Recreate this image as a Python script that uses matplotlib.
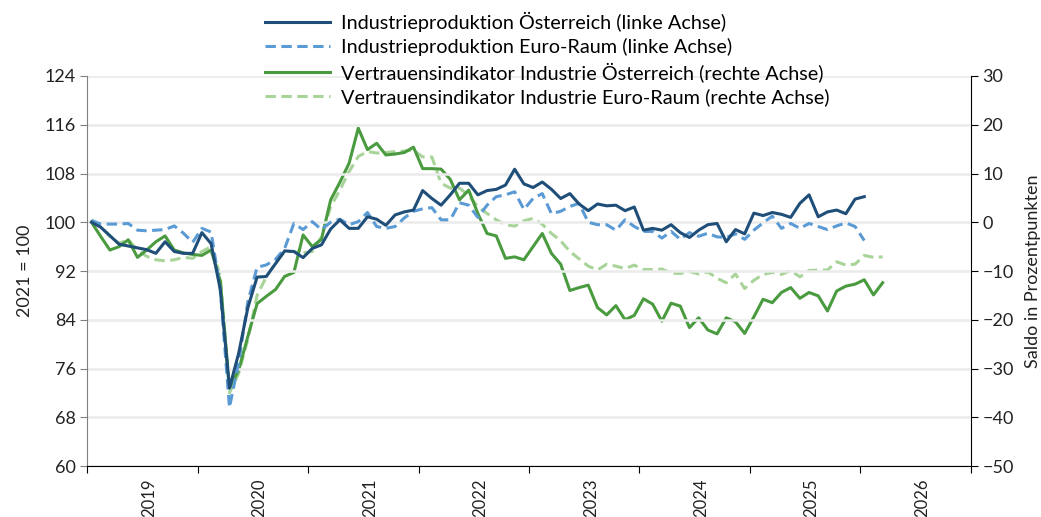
import numpy as np
import matplotlib
matplotlib.use("Agg")
import matplotlib.pyplot as plt
from matplotlib.ticker import FixedLocator, NullFormatter, FixedFormatter

plt.rcParams['font.family'] = ['Lato', 'DejaVu Sans']

# monthly data, Jan 2019 onwards
ip_at = [100.0, 99.2, 97.8, 96.4, 96.1, 95.8, 95.5, 94.9, 96.8, 95.2, 94.9, 94.9,
         98.3, 96.5, 89.0, 72.8, 78.5, 86.0, 91.0, 91.1, 93.2, 95.3, 95.2, 94.2,
         95.7, 96.3, 98.9, 100.4, 99.0, 99.0, 100.9, 100.5, 99.5, 101.2, 101.7, 102.0,
         105.2, 103.9, 102.8, 104.5, 106.4, 106.4, 104.5, 105.2, 105.4, 106.1, 108.7, 106.3,
         105.7, 106.6, 105.4, 103.9, 104.7, 103.0, 101.9, 103.0, 102.7, 102.8, 101.9, 102.5,
         98.7, 99.0, 98.7, 99.6, 98.3, 97.5, 98.7, 99.6, 99.8, 96.8, 98.8, 98.1,
         101.5, 101.1, 101.6, 101.3, 100.8, 103.1, 104.5, 100.9, 101.7, 102.0, 101.4, 103.8,
         104.2]
ip_ea = [100.3, 99.7, 99.7, 99.7, 99.8, 98.7, 98.6, 98.7, 98.8, 99.4, 98.2, 96.7,
         99.0, 98.4, 89.0, 69.6, 77.0, 87.0, 92.6, 93.0, 93.9, 95.7, 99.8, 98.8,
         100.1, 98.8, 100.0, 100.5, 99.6, 100.1, 101.6, 99.3, 99.0, 99.3, 100.7, 101.8,
         102.2, 102.4, 100.4, 100.4, 103.2, 102.8, 100.8, 102.8, 104.2, 104.5, 105.0, 102.1,
         103.9, 104.7, 101.4, 101.8, 102.6, 103.1, 100.0, 99.6, 99.6, 98.7, 100.4, 99.3,
         98.5, 98.5, 97.4, 98.5, 97.2, 98.3, 97.7, 98.2, 97.6, 97.5, 98.1, 97.2,
         98.7, 99.9, 101.0, 99.0, 99.8, 99.0, 99.8, 99.3, 98.8, 99.4, 99.9, 99.3,
         97.0]
conf_at = [0.0, -2.9, -5.7, -5.0, -3.6, -7.2, -5.7, -4.0, -2.8, -5.7, -6.3, -6.6,
           -6.8, -5.7, -12.0, -34.0, -30.3, -23.4, -16.7, -15.2, -13.8, -11.1, -10.3, -2.6,
           -5.0, -3.5, 4.6, 8.2, 12.1, 19.3, 14.9, 16.2, 13.8, 14.0, 14.3, 15.4,
           11.0, 11.0, 10.9, 8.8, 4.6, 6.6, 1.8, -2.3, -2.8, -7.4, -7.1, -7.7,
           -5.0, -2.3, -6.4, -8.6, -14.0, -13.4, -12.9, -17.5, -19.0, -17.1, -20.0, -19.1,
           -15.7, -16.8, -20.3, -16.6, -17.2, -21.6, -19.6, -22.1, -22.9, -19.6, -20.4, -22.8,
           -19.4, -15.8, -16.5, -14.4, -13.4, -15.6, -14.4, -15.1, -18.2, -14.1, -13.1, -12.7,
           -11.8, -14.9, -12.4]
conf_ea = [0.5, -0.9, -2.9, -4.3, -3.6, -5.7, -7.0, -7.7, -7.9, -7.7, -7.2, -7.4,
           -6.0, -5.0, -11.0, -35.0, -31.0, -24.0, -15.0, -11.2, -8.4, -6.0, -6.0, -6.3,
           -6.0, -3.0, 3.2, 6.6, 10.4, 13.5, 14.5, 14.2, 14.3, 14.5, 14.6, 14.8,
           13.4, 13.4, 8.0, 7.0, 7.0, 5.5, 3.2, 1.8, 0.5, -0.5, -0.8, 0.3,
           0.8, -0.4, -2.3, -3.8, -6.0, -7.5, -9.0, -9.8, -8.6, -9.0, -9.5, -8.8,
           -9.7, -9.7, -9.6, -10.4, -10.5, -10.1, -10.6, -10.2, -11.5, -12.4, -10.6, -13.6,
           -11.9, -10.7, -10.3, -10.7, -9.9, -11.2, -9.9, -9.8, -9.8, -8.1, -8.8, -8.6,
           -6.8, -7.2, -7.1]
years = [2019, 2020, 2021, 2022, 2023, 2024, 2025, 2026]

labels = ["Industrieproduktion Österreich (linke Achse)",
          "Industrieproduktion Euro-Raum (linke Achse)",
          "Vertrauensindikator Industrie Österreich (rechte Achse)",
          "Vertrauensindikator Industrie Euro-Raum (rechte Achse)"]

def months(n):
    return 2019 + (np.arange(n) + 0.45) / 12.0

fig = plt.figure(figsize=(10.41, 5.17), dpi=100)
ax = fig.add_axes([0.0839, 0.0986, 0.8484, 0.7544])
ax2 = ax.twinx()

c_dark = '#1F4E79'
c_blue = '#5B9BD5'
c_green = '#4A9B3F'
c_lgreen = '#A8D49A'
dash = (0, (3.4, 1.8))

l1, = ax.plot(months(len(ip_at)), ip_at, color=c_dark, lw=2.2, zorder=5)
l2, = ax.plot(months(len(ip_ea)), ip_ea, color=c_blue, lw=2.2, ls=dash, zorder=4)
l4, = ax2.plot(months(len(conf_ea)), conf_ea, color=c_lgreen, lw=2.2, ls=dash, zorder=2)
l3, = ax2.plot(months(len(conf_at)), conf_at, color=c_green, lw=2.2, zorder=3)

ax.set_zorder(ax2.get_zorder() + 1)
ax.patch.set_visible(False)

ax.set_xlim(2019, 2027)
ax.set_ylim(60, 124)
ax2.set_ylim(-50, 30)
ax.set_yticks(np.arange(60, 125, 8))
ax2.set_yticks(np.arange(-50, 31, 10))

ax.grid(axis='y', color='#EBEBEB', lw=1.8)
ax.set_axisbelow(True)

# year boundaries as ticks, labels centred in each year
ax.xaxis.set_major_locator(FixedLocator(range(2019, 2028)))
ax.xaxis.set_major_formatter(NullFormatter())
ax.xaxis.set_minor_locator(FixedLocator([y + 0.56 for y in years]))
ax.xaxis.set_minor_formatter(FixedFormatter([str(y) for y in years]))
ax.tick_params(axis='x', which='minor', length=0, rotation=90, labelsize=12, pad=9,
               colors='#222222')
ax.tick_params(axis='x', which='major', length=5, color='#000000')
ax.tick_params(axis='y', length=5, color='#808080', labelsize=13, colors='#222222')
ax2.tick_params(axis='y', length=5, color='#000000', labelsize=13, colors='#222222')

for a in (ax, ax2):
    a.spines['top'].set_visible(False)
ax.spines['left'].set_color('#808080')
ax.spines['right'].set_visible(False)
ax2.spines['left'].set_visible(False)
ax2.spines['bottom'].set_visible(False)
ax.spines['bottom'].set_color('#000000')
ax2.spines['right'].set_color('#000000')

ax.set_ylabel("2021 = 100", fontsize=13, color='#222222', labelpad=8)
ax2.set_ylabel("Saldo in Prozentpunkten", fontsize=13, color='#222222', labelpad=8)

fig.legend([l1, l2, l3, l4], labels, loc='upper left', bbox_to_anchor=(0.243, 1.0),
           frameon=False, fontsize=14.3, handlelength=3.3, handletextpad=0.55,
           labelspacing=0.3, borderaxespad=0.2)

fig.savefig("out.png", dpi=100)
